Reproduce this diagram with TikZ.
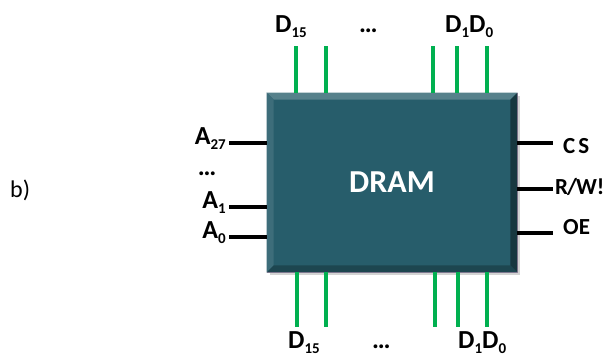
\documentclass[tikz,border=0pt]{standalone}
\usepackage{fontspec}
\setmainfont{Carlito}
\usetikzlibrary{positioning,shadows}
\definecolor{chipteal}{HTML}{275D6B}
\definecolor{pingreen}{HTML}{00B050}
\newcommand\lowidx[1]{\raisebox{-5pt}{\fontsize{15}{15}\selectfont #1}}

\begin{document}
\begin{tikzpicture}[x=1pt, y=-1pt, line cap=butt,
    chip/.style={draw=gray!60!violet!60, line width=.6pt, fill=chipteal, minimum width=250pt,
      minimum height=179pt, inner sep=0pt, text=white,
      font=\bfseries\fontsize{32}{34}\selectfont,
      drop shadow={shadow xshift=3pt, shadow yshift=-3pt, opacity=.35}},
    datapin/.style={pingreen, line width=3.5pt},
    ctlpin/.style={black, line width=4.5pt},
    lbl/.style={inner sep=0pt, font=\bfseries\fontsize{26}{28}\selectfont},
    ctl/.style={inner sep=0pt, font=\bfseries\fontsize{23}{25}\selectfont}]
  \useasboundingbox (0,0) rectangle (605,356);

  \node[anchor=base west, inner sep=0pt, font=\fontsize{24}{26}\selectfont] (part) at (10,197) {b)};

  % chip body with bevelled edges
  \node[chip] (dram) at (392,182.5) {DRAM};
  \fill[chipteal!78!white] (dram.north west) -- (dram.north east) -- ++(-7,7)
    -- ([shift={(7,7)}]dram.north west) -- cycle;
  \fill[chipteal!90!white] (dram.north west) -- ([shift={(7,7)}]dram.north west)
    -- ([shift={(7,-7)}]dram.south west) -- (dram.south west) -- cycle;
  \fill[chipteal!75!black] (dram.south west) -- ([shift={(7,-7)}]dram.south west)
    -- ([shift={(-7,-7)}]dram.south east) -- (dram.south east) -- cycle;
  \fill[chipteal!60!black] (dram.north east) -- ([shift={(-7,7)}]dram.north east)
    -- ([shift={(-7,-7)}]dram.south east) -- (dram.south east) -- cycle;

  % data pins
  \foreach \x/\xb [count=\i] in {296/297, 326/326, 433/435, 457/458, 487/487} {
    \coordinate (top\i) at (\x,46);
    \coordinate (bot\i) at (\xb,327);
    \draw[datapin] (top\i) -- (top\i |- dram.north);
    \draw[datapin] (bot\i |- dram.south) -- (bot\i);
  }
  \node[lbl, anchor=base west] (d15top) at (275,32) {D\lowidx{15}};
  \node[lbl, anchor=base west] (dotstop) at (359,32) {…};
  \node[lbl, anchor=base west] (d10top) at (445,32) {D\lowidx{1}D\lowidx{0}};
  \node[lbl, anchor=base west] (d15bot) at (288,348) {D\lowidx{15}};
  \node[lbl, anchor=base west] (dotsbot) at (372,348) {…};
  \node[lbl, anchor=base west] (d10bot) at (458,348) {D\lowidx{1}D\lowidx{0}};

  % address pins
  \foreach \name/\y/\txt in {a27/143/{A\lowidx{27}}, a1/207/{A\lowidx{1}}, a0/237/{A\lowidx{0}}} {
    \coordinate (\name-end) at (229,\y);
    \node[lbl, anchor=base east] (\name) at ([shift={(-3,1)}]\name-end) {\txt};
    \draw[ctlpin] (\name-end) -- (\name-end -| dram.west);
  }
  \node[lbl, anchor=base] (adots) at (207,175) {…};

  % control pins
  \foreach \name/\y/\x/\b/\txt in {cs/143/563/153/{C\kern3pt S}, rw/189/555/194/{R\kern-1pt/\kern-1pt W!}, oe/233/563/234/{OE}} {
    \coordinate (\name-end) at (553,\y);
    \draw[ctlpin] (\name-end -| dram.east) -- (\name-end);
    \node[ctl, anchor=base west] (\name) at (\x,\b) {\txt};
  }
\end{tikzpicture}
\end{document}
